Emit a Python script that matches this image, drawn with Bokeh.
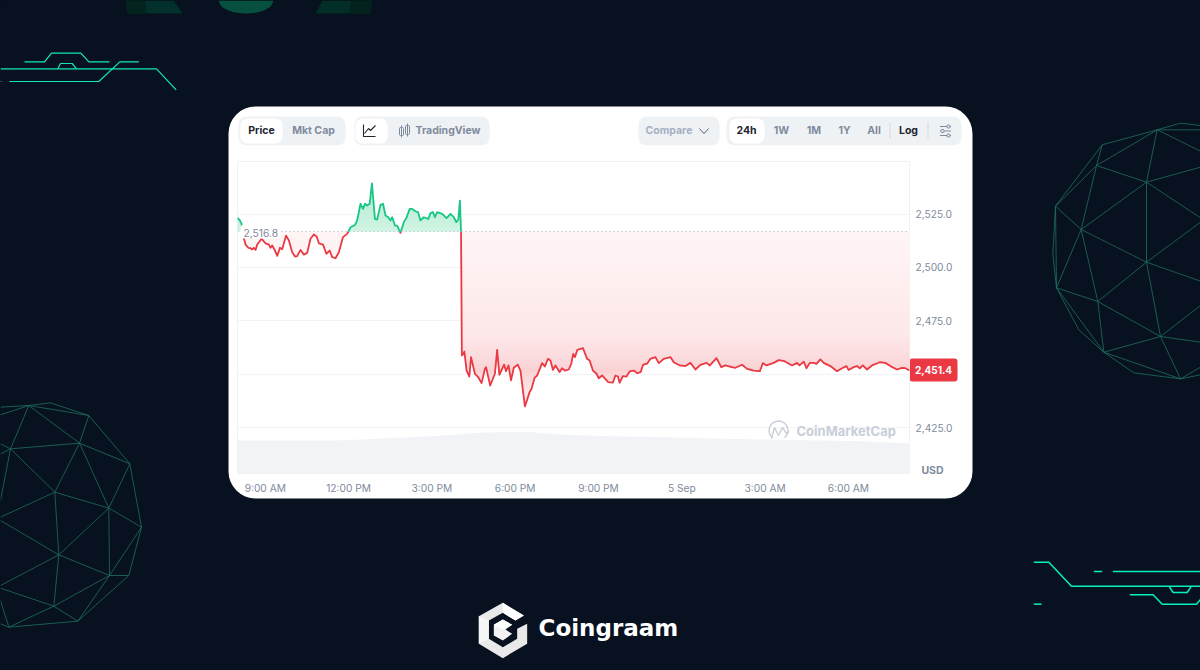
import math
import numpy as np
from bokeh.plotting import figure
from bokeh.embed import file_html
from bokeh.resources import INLINE
from bokeh.models import (BoxAnnotation, FixedTicker, Grid, Label, PolyAnnotation, Range1d, Span)

# ---------- data ----------
hours = [8.00,8.07,8.15,8.17,8.29,8.39,8.47,8.53,8.59,8.65,8.71,8.87,9.01,9.13,9.19,9.25,9.35,9.43,9.53,9.61,9.75,9.85,9.97,
10.07,10.15,10.27,10.39,10.51,10.63,10.75,10.85,10.93,11.08,11.20,11.32,11.41,11.53,11.65,11.80,11.95,12.07,12.23,12.31,12.43,12.52,12.59,12.67,12.76,12.84,12.95,
13.03,13.15,13.24,13.33,13.43,13.51,13.57,13.67,13.75,13.87,13.99,14.08,14.20,14.29,14.41,14.50,14.59,14.71,14.87,14.95,15.04,15.11,15.19,15.37,15.53,15.67,15.79,15.88,15.95,16.01,16.05,
16.08,16.13,16.17,16.25,16.35,16.41,16.55,16.67,16.79,16.91,16.95,17.10,17.27,17.35,17.43,17.60,17.67,17.76,17.85,17.95,18.09,18.19,18.35,18.52,18.59,18.70,18.79,18.97,
19.07,19.18,19.27,19.36,19.45,19.60,19.69,19.79,19.93,20.02,20.09,20.15,20.24,20.44,20.59,20.68,20.80,20.93,21.01,21.13,21.35,21.52,21.61,21.70,21.76,21.88,
22.01,22.12,22.27,22.39,22.52,22.61,22.75,22.87,23.05,23.17,23.35,23.59,23.71,23.93,24.13,24.31,24.49,24.67,24.89,25.01,25.25,25.42,25.57,25.73,25.93,
26.17,26.35,26.59,26.81,26.92,27.05,27.31,27.49,27.70,27.97,28.15,28.24,28.39,28.49,28.61,28.75,28.85,28.99,29.11,29.35,29.59,29.77,29.93,
30.01,30.19,30.31,30.41,30.52,30.67,30.85,31.13,31.33,31.51,31.75,31.93,32.05,32.21]
prices = [2523.2,2522.3,2520.4,2516.5,2510.7,2509.2,2509.0,2508.4,2509.2,2508.2,2510.7,2513.4,2511.3,2510.7,2509.2,2510.3,2507.9,2505.4,2509.2,2508.5,2514.9,2512.6,2507.1,
2505.1,2505.3,2508.2,2506.0,2506.8,2513.4,2515.4,2514.5,2511.3,2510.7,2506.4,2507.9,2504.8,2504.3,2507.1,2514.2,2515.7,2518.8,2519.9,2522.0,2529.8,2527.4,2529.8,2529.0,2529.8,2539.4,2522.7,
2522.4,2529.3,2529.8,2524.3,2523.5,2522.0,2523.5,2519.6,2519.6,2516.2,2521.2,2523.1,2527.4,2527.4,2526.3,2525.9,2522.0,2523.5,2522.7,2525.4,2525.9,2523.5,2525.9,2525.1,2523.1,2525.1,2523.5,2521.2,2522.3,2531.3,2516.5,
2458.8,2459.5,2460.6,2451.7,2448.9,2458.0,2450.2,2448.6,2445.8,2452.5,2453.3,2444.7,2450.2,2461.4,2449.7,2454.5,2451.4,2454.1,2447.1,2453.0,2454.5,2451.7,2434.9,2441.6,2443.2,2448.3,2449.4,2455.2,
2453.6,2457.2,2456.4,2452.0,2454.1,2451.0,2452.8,2451.7,2452.2,2454.9,2459.5,2458.0,2461.4,2462.2,2457.2,2456.4,2451.7,2450.2,2448.1,2449.4,2446.3,2446.1,2449.4,2448.9,2446.0,2449.1,
2448.9,2451.3,2451.7,2450.5,2451.0,2454.5,2454.9,2457.2,2458.0,2455.2,2457.2,2458.0,2455.6,2454.1,2453.8,2455.3,2452.2,2454.4,2455.3,2454.1,2457.5,2453.3,2454.1,2453.6,2453.0,
2454.4,2452.5,2451.7,2451.4,2455.2,2454.1,2455.3,2456.6,2456.1,2454.1,2455.3,2454.1,2455.9,2452.8,2455.3,2455.3,2454.8,2456.9,2455.3,2453.8,2451.4,2452.8,2453.8,
2452.0,2453.3,2453.8,2452.8,2454.1,2452.2,2454.1,2455.6,2455.3,2453.8,2452.2,2453.0,2452.8,2451.7]
vol_hours = [8.0,10.0,11.5,12.5,13.5,14.0,15.0,16.0,16.5,17.5,18.5,19.5,20.5,21.5,23.0,25.0,27.0,29.0,30.5,32.2]
volumes = [1.06,1.06,1.06,1.09,1.13,1.15,1.19,1.25,1.30,1.33,1.33,1.26,1.22,1.19,1.17,1.12,1.09,1.06,1.03,0.96]
open_price = 2516.8
last_price = 2451.4
x_ticks = [9,12,15,18,21,24,27,30]
x_labels = ["9:00 AM","12:00 PM","3:00 PM","6:00 PM","9:00 PM","5 Sep","3:00 AM","6:00 AM"]
y_ticks = [2425,2475,2500,2525]
y_labels = ["2,425.0","2,475.0","2,500.0","2,525.0"]
grid_ticks = [2425,2450,2475,2500,2525]

RED, GREEN = "#ea3943", "#16c784"
BG, GREY = "#07111f", "#808a9d"
FONT = "Inter"

# ---------- backdrop figure: whole page is its frame ----------
bg = figure(width=1200, height=670, output_backend="svg", toolbar_location=None,
            x_range=Range1d(0, 1200), y_range=Range1d(670, 0), x_axis_type=None, y_axis_type=None,
            min_border=0, border_fill_color=BG, background_fill_color=BG, outline_line_color=None)
bg.xgrid.visible = False
bg.ygrid.visible = False

# ---------- chart figure, laid transparently over the backdrop ----------
p = figure(width=1200, height=670, output_backend="svg", toolbar_location=None,
           x_range=Range1d(8.0, 32.2), y_range=Range1d(2403.5, 2549.6),
           x_axis_location="below", y_axis_location="right",
           min_border_left=237, min_border_right=291, min_border_top=161, min_border_bottom=197,
           border_fill_color=None, background_fill_color=None, outline_line_color="#eff2f5",
           styles={"position": "absolute", "left": "0px", "top": "0px"})
p.xgrid.visible = False
p.ygrid.visible = False
p.add_layout(Grid(dimension=1, ticker=FixedTicker(ticks=grid_ticks), grid_line_color="#f1f3f6", grid_line_width=1))
p.extra_y_ranges = {"vol": Range1d(0, 10)}

xa, ya = p.xaxis[0], p.yaxis[0]
xa.ticker = FixedTicker(ticks=x_ticks)
xa.major_label_overrides = dict(zip(x_ticks, x_labels))
ya.ticker = FixedTicker(ticks=y_ticks)
ya.major_label_overrides = dict(zip(y_ticks, y_labels))
for a in (xa, ya):
    a.axis_line_color = None
    a.major_tick_line_color = None
    a.minor_tick_line_color = None
    a.major_label_text_color = GREY
    a.major_label_text_font = FONT
    a.major_label_text_font_size = "10.2px"
xa.major_label_standoff = 2
ya.major_label_standoff = 0

# ---------- helpers for page furniture (canvas pixels) ----------
def box(l, r, t, b, color, radius=0, line=None, fig=bg):
    fig.add_layout(BoxAnnotation(left=l, right=r, top=t, bottom=b, left_units="canvas", right_units="canvas",
                                 top_units="canvas", bottom_units="canvas", fill_color=color, fill_alpha=1,
                                 line_color=line, line_alpha=1, border_radius=radius))

def poly(pts, color, fig=bg):
    fig.add_layout(PolyAnnotation(xs=[a for a, _ in pts], ys=[b for _, b in pts], xs_units="canvas", ys_units="canvas",
                                  fill_color=color, fill_alpha=1, line_color=None))

def stroke(pts, color, w=1.0, fig=bg):
    back = pts + pts[::-1][1:-1]
    fig.add_layout(PolyAnnotation(xs=[a for a, _ in back], ys=[b for _, b in back], xs_units="canvas", ys_units="canvas",
                                  fill_color=None, fill_alpha=0, line_color=color, line_alpha=1, line_width=w))

def text(x, y, s, color=GREY, size=10.5, bold=False, align="center", font=FONT, fig=bg):
    fig.add_layout(Label(x=x, y=y, x_units="canvas", y_units="canvas", text=s, text_color=color,
                         text_font=font, text_font_size=f"{size}px", text_font_style="bold" if bold else "normal",
                         text_align=align, text_baseline="middle"))

def z(pts, x0, y0):
    return [(x0 + a / 3, y0 + b / 3) for a, b in pts]

# ---------- background decorations ----------
poly([(125,0),(173,0),(182,13),(127,13)], "#03302a")
poly([(322,0),(372,0),(370,13),(315,13)], "#032e27")
poly([(125,0),(145,0),(146,13),(127,13)], "#03231f")
poly([(350,0),(372,0),(370,13),(349,13)], "#03211d")
poly([(218 + 55 * i / 24, 13 * math.sqrt(max(0, 1 - ((i - 12) / 12) ** 2))) for i in range(25)], "#07503f")

CIRC = "#13e8bb"
for path in [[(72,184),(132,184),(153,158),(241,158),(265,184),(327,184)],
             [(0,205),(468,205),(527,268)],
             [(172,205),(180,189),(215,189),(228,205)],
             [(27,243),(295,243),(358,184),(415,184)],
             [(0,243),(3,243)]]:
    stroke(z(path, 0, 0), CIRC, 1.2)
for path in [[(40,35),(85,35),(153,107),(540,107)], [(220,63),(245,63)], [(277,63),(540,63)],
             [(445,107),(458,126),(500,126),(513,107)],
             [(328,133),(398,133),(425,161),(528,161),(540,147)], [(40,161),(63,161)]]:
    stroke(z(path, 1020, 550), "#06f0c0", 1.5)

WIRE = "#1f6f5f"
A,B,C,D,E,F,G,H,I,J,K,L,M,N,O,P_ = (410,58),(245,103),(228,165),(378,215),(105,287),(182,357),(378,455),(108,532),(232,573),(420,678),(250,725),(480,805),(175,658),(340,787),(97,430),(480,38)
edges = [(E,B),(B,A),(A,P_),(P_,(540,45)),(B,C),(A,C),(C,E),(C,D),(A,D),(D,G),(D,F),(C,F),(E,F),(F,G),(F,H),(F,I),(E,H),(E,O),(O,H),(G,I),(H,I),(I,J),(G,J),(I,K),(H,K),(H,M),(M,K),(K,J),(J,L),(K,L),(K,N),(N,L),
         (D,(540,170)),(A,(540,122)),(D,(540,322)),(G,(540,335)),(G,(540,512)),(J,(540,585)),(J,(540,695)),(L,(540,770)),(A,(540,58)),(L,(540,793))]
for a, b in edges:
    stroke(z([a, b], 1020, 110), WIRE, 0.8)
a_,b_,c_,d_,e_,f_,g_,h_,i_,j_,k_,l_,m_,n_,o_ = (85,30),(265,60),(150,22),(237,143),(30,160),(388,205),(163,290),(325,338),(423,395),(175,478),(327,540),(385,540),(232,677),(160,632),(25,695)
edges2 = [((0,35),a_),(a_,c_),(c_,b_),(a_,b_),(a_,d_),(b_,d_),(b_,f_),(d_,f_),(d_,e_),(a_,e_),((0,58),a_),(e_,(0,145)),(e_,(0,175)),(e_,(0,315)),(e_,g_),(d_,g_),(d_,h_),(f_,h_),(f_,i_),(h_,g_),(h_,i_),(h_,j_),(h_,k_),(g_,j_),(g_,(0,365)),((0,375),j_),(j_,k_),(j_,n_),(j_,(0,570)),((0,578),n_),(i_,k_),(i_,l_),(k_,l_),(l_,m_),(k_,m_),(k_,n_),(n_,m_),(n_,o_),(m_,o_),((0,615),o_),((0,685),o_)]
for a, b in edges2:
    stroke(z([a, b], 0, 395), WIRE, 0.8)

# ---------- white card ----------
box(228, 972, 106, 498, "white", radius=27)

# ---------- price series ----------
hx, hy = [], []
for i, (a, b) in enumerate(zip(hours, prices)):
    if i:
        a0, b0 = hours[i - 1], prices[i - 1]
        if (b0 - open_price) * (b - open_price) < 0:
            hx.append(a0 + (a - a0) * (open_price - b0) / (b - b0))
            hy.append(open_price)
    hx.append(a)
    hy.append(b)
hx, hy = np.array(hx), np.array(hy)

def hex_rgb(c):
    return [int(c[i:i + 2], 16) for i in (1, 3, 5)]

def ramp(level, stops):
    lv = [s[0] for s in stops]
    cs = np.array([hex_rgb(s[1]) for s in stops], dtype=float)
    return "#%02x%02x%02x" % tuple(int(round(np.interp(level, lv, cs[:, k]))) for k in range(3))

# volume area
p.varea(x=vol_hours, y1=0, y2=volumes, y_range_name="vol", color="#f1f3f6")

# gradient under the price line (sampled only for the fill's shading)
fx = np.arange(8.0, 32.21, 0.02)
fy = np.interp(fx, hx, hy)
red_stops = [(2434, "#fef4f4"), (2445, "#fcdfe1"), (2452, "#fad2d4"), (2460, "#fcdee0"), (2470, "#fde9ea"), (2490, "#feeeee"), (2516.8, "#fff5f5")]
green_stops = [(2516.8, "#d0f3e3"), (2525, "#c4efdc"), (2540, "#b5ebd3")]
for lev in np.arange(open_price, 2433, -2.0):
    p.varea(x=fx, y1=np.minimum(fy, lev), y2=lev, color=ramp(lev - 1, red_stops))
for lev in np.arange(open_price, 2541, 2.0):
    p.varea(x=fx, y1=np.maximum(fy, lev), y2=lev, color=ramp(lev + 1, green_stops))

p.add_layout(Span(location=open_price, dimension="width", line_color="#a6b0c3", line_dash="1 3", line_width=1))

p.line(hx, np.where(hy <= open_price, hy, np.nan), line_color=RED, line_width=1.8, line_join="round")
p.line(hx, np.where(hy >= open_price, hy, np.nan), line_color=GREEN, line_width=1.8, line_join="round")

# ---------- labels inside the plot ----------
box(240, 280, 224, 238, "white", radius=4, fig=p)
text(243, 232.5, f"{open_price:,.1f}", size=10.3, align="left", fig=p)

# watermark
WM = "#c9ced8"
stroke([(778 + 9.5 * math.cos(t), 430 + 9.5 * math.sin(t)) for t in np.radians(np.arange(130, 411, 20))], WM, 1.4, fig=p)
stroke([(771,438),(774,427),(778,435),(782,427),(786,433),(789,431)], WM, 1.4, fig=p)
text(796, 430.5, "CoinMarketCap", color=WM, size=13, bold=True, align="left", fig=p)

# price tag + axis unit
box(909, 957, 358, 381, RED, radius=3)
text(933, 369.8, f"{last_price:,.1f}", color="white", size=10, bold=True)
text(932, 470, "USD", size=10.5, bold=True)

# ---------- toolbar ----------
CHIP, DARK, PALE = "#eff2f5", "#222531", "#a6b0c3"
box(238, 345, 116, 145, CHIP, radius=8)
box(240, 282, 118, 143, "white", radius=7)
text(261, 130, "Price", color=DARK, bold=True)
text(313, 130, "Mkt Cap", bold=True)
box(354, 489, 116, 145, CHIP, radius=8)
box(355, 387, 118, 143, "white", radius=7)
stroke([(363,124),(363,136),(375,136)], DARK, 1.1)
stroke([(364,133),(368,128),(370,130),(375,125)], DARK, 1.1)
for cx, t, b in [(401, 127, 135), (407, 125, 134)]:
    box(cx - 2, cx + 2, t, b, CHIP, line=GREY, radius=1)
    stroke([(cx, t - 2), (cx, b + 2)], GREY, 1.0)
text(415, 130, "TradingView", bold=True, align="left")
box(638, 719, 116, 145, CHIP, radius=8)
text(645, 130, "Compare", color=PALE, bold=True, align="left")
stroke([(699,128),(703.5,133),(708,128)], GREY, 1.0)
box(726, 961, 116, 145, CHIP, radius=8)
box(729, 764, 118, 143, "white", radius=7)
text(746, 130, "24h", color=DARK, bold=True)
for cx, s in [(781, "1W"), (813.5, "1M"), (844, "1Y"), (873.5, "All")]:
    text(cx, 130, s, bold=True)
text(908, 130, "Log", color=DARK, bold=True)
box(889, 890, 122, 138, "#d5d9e1")
box(927, 928, 122, 138, "#d5d9e1")
for yy, k in [(126, 948), (130.5, 942), (135, 948)]:
    stroke([(939.5, yy), (950.5, yy)], GREY, 1.0)
    box(k - 1.5, k + 1.5, yy - 1.5, yy + 1.5, CHIP, radius=1, line=GREY)

# ---------- logo ----------
poly(z([(127,22),(190,60),(165,75),(127,52),(85,75),(85,130),(127,155),(170,130),(170,100),(200,85),(200,145),(127,188),(55,145),(55,62)], 460, 595), "#e9e9e9")
poly(z([(127,22),(190,60),(165,75),(127,52)], 460, 595), "#ffffff")
poly(z([(55,62),(85,75),(85,130),(55,145)], 460, 595), "#f6f6f6")
poly(z([(127,72),(155,88),(135,102),(155,115),(127,135),(100,120),(100,88)], 460, 595), "#f2f2f2")
poly(z([(127,72),(155,88),(127,102),(100,88)], 460, 595), "#ffffff")
text(538, 627, "Coingraam", color="white", size=23, bold=True, align="left", font="DejaVu Sans")

html = file_html((bg, p), INLINE)
html = html.replace("<head>", f"<head><style>html,body{{margin:0;padding:0;overflow:hidden;background:{BG};}}</style>", 1)
open("out.html", "w").write(html)
